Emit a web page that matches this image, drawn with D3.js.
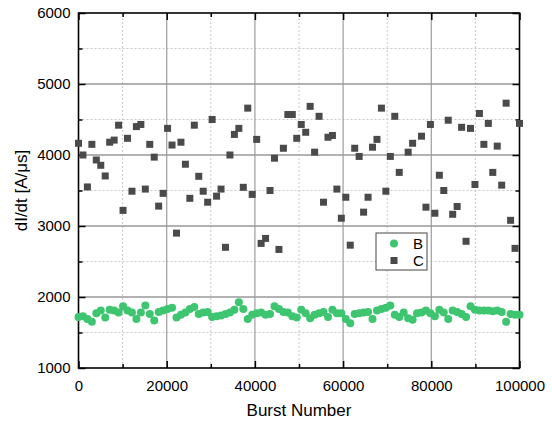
<!DOCTYPE html>
<html>
<head>
<meta charset="utf-8">
<script src="https://cdn.jsdelivr.net/npm/d3@7"></script>
<style>
  body { margin: 0; background: #fff; }
  text { font-family: "Liberation Sans", Arial, sans-serif; fill: #000; }
</style>
</head>
<body>
<svg id="chart"></svg>
<script>
// burst numbers (x) shared by both series
const burst = [
  0, 1010, 2020, 3030, 4040, 5050, 6060, 7070, 8080, 9090,
  10100, 11110, 12120, 13130, 14140, 15150, 16160, 17170, 18180, 19190,
  20200, 21210, 22220, 23230, 24240, 25250, 26260, 27270, 28280, 29290,
  30300, 31310, 32320, 33330, 34340, 35350, 36360, 37370, 38380, 39390,
  40400, 41410, 42420, 43430, 44440, 45450, 46460, 47470, 48480, 49490,
  50510, 51520, 52530, 53540, 54550, 55560, 56570, 57580, 58590, 59600,
  60610, 61620, 62630, 63640, 64650, 65660, 66670, 67680, 68690, 69700,
  70710, 71720, 72730, 73740, 74750, 75760, 76770, 77780, 78790, 79800,
  80810, 81820, 82830, 83840, 84850, 85860, 86870, 87880, 88890, 89900,
  90910, 91920, 92930, 93940, 94950, 95960, 96970, 97980, 98990, 100000
];

const seriesB = [
  1720, 1730, 1690, 1650, 1770, 1810, 1710, 1820, 1810, 1780,
  1870, 1810, 1780, 1690, 1780, 1880, 1760, 1670, 1790, 1810,
  1830, 1850, 1710, 1750, 1780, 1830, 1860, 1760, 1780, 1790,
  1720, 1730, 1740, 1760, 1780, 1820, 1925, 1830, 1690, 1750,
  1770, 1780, 1750, 1760, 1870, 1830, 1790, 1780, 1730, 1710,
  1820, 1770, 1700, 1750, 1770, 1790, 1720, 1820, 1770, 1770,
  1690, 1630, 1760, 1770, 1780, 1790, 1690, 1810, 1830, 1850,
  1880, 1750, 1720, 1780, 1700, 1680, 1770, 1780, 1810, 1770,
  1730, 1820, 1780, 1690, 1810, 1790, 1760, 1720, 1870, 1820,
  1810, 1810, 1810, 1800, 1810, 1790, 1650, 1760, 1750, 1750
];

// two C points sit behind the legend box and can't be read
const seriesC = [
  4165, 4000, 3550, 4150, 3930, 3855, 3705, 4180, 4210, 4420,
  3220, 4235, 3490, 4400, 4430, 3520, 4150, 3970, 3280, 3460,
  4375, 4140, 2900, 4180, 3870, 3390, 4420, 3700, 3490, 3335,
  4500, 3420, 3520, 2700, 4000, 4290, 4375, 3545, 4660, 3445,
  4220, 2755, 2825, 3500, 3955, 2670, 4095, 4570, 4570, 4235,
  4430, 4320, 4685, 4040, 4545, 3335, 4250, 4275, 3520, 3110,
  3405, 2730, 4095, 3980, 3195, 3405, 4110, 4220, 4660, 3490,
  3980, 4545, 3755, null, 4040, 4165, null, 4265, 3265, 4430,
  3180, 3715, 3500, 4490, 3165, 3275, 4390, 2785, 4375, 3585,
  4585, 4150, 4445, 3755, 4125, 3575, 4730, 3080, 2685, 4445
];

const xTicks = [0, 20000, 40000, 60000, 80000, 100000];
const yTicks = [1000, 2000, 3000, 4000, 5000, 6000];
const xMinor = [10000, 30000, 50000, 70000, 90000];
const yMinor = [1500, 2500, 3500, 4500, 5500];

const W = 552, H = 423;
const m = { left: 78.5, right: 32.5, top: 13, bottom: 55 };

const svg = d3.select("#chart").attr("width", W).attr("height", H);

const x = d3.scaleLinear().domain([0, 100000]).range([m.left, W - m.right]);
const y = d3.scaleLinear().domain([1000, 6000]).range([H - m.bottom, m.top]);

const grid = svg.append("g");

// minor grid (dotted)
grid.selectAll(".vminor").data(xMinor).enter().append("line")
  .attr("x1", d => x(d)).attr("x2", d => x(d))
  .attr("y1", y(1000)).attr("y2", y(6000))
  .attr("stroke", "#c8c8c8").attr("stroke-width", 1).attr("stroke-dasharray", "2,2");
grid.selectAll(".hminor").data(yMinor).enter().append("line")
  .attr("x1", x(0)).attr("x2", x(100000))
  .attr("y1", d => y(d)).attr("y2", d => y(d))
  .attr("stroke", "#c8c8c8").attr("stroke-width", 1).attr("stroke-dasharray", "2,2");

// major grid
grid.selectAll(".vmajor").data(xTicks.slice(1, -1)).enter().append("line")
  .attr("x1", d => x(d)).attr("x2", d => x(d))
  .attr("y1", y(1000)).attr("y2", y(6000))
  .attr("stroke", "#a4a4a4").attr("stroke-width", 1.3);
grid.selectAll(".hmajor").data(yTicks.slice(1, -1)).enter().append("line")
  .attr("x1", x(0)).attr("x2", x(100000))
  .attr("y1", d => y(d)).attr("y2", d => y(d))
  .attr("stroke", "#999").attr("stroke-width", 1.3);

// axes, ticks pointing inward
const fmt = d3.format("d");
svg.append("g").attr("transform", `translate(0,${y(1000)})`)
  .call(d3.axisBottom(x).tickValues(xTicks).tickFormat(fmt).tickSizeInner(-7).tickSizeOuter(0).tickPadding(12));
svg.append("g").attr("transform", `translate(0,${y(1000)})`)
  .call(d3.axisBottom(x).tickValues(xMinor).tickFormat("").tickSizeInner(-4).tickSizeOuter(0));
svg.append("g").attr("transform", `translate(${x(0)},0)`)
  .call(d3.axisLeft(y).tickValues(yTicks).tickFormat(fmt).tickSizeInner(-7).tickSizeOuter(0).tickPadding(8));
svg.append("g").attr("transform", `translate(${x(0)},0)`)
  .call(d3.axisLeft(y).tickValues(yMinor).tickFormat("").tickSizeInner(-4).tickSizeOuter(0));
svg.append("g").attr("transform", `translate(${x(100000)},0)`)
  .call(d3.axisRight(y).tickValues(yTicks).tickFormat("").tickSizeInner(-7).tickSizeOuter(0));
svg.append("g").attr("transform", `translate(${x(100000)},0)`)
  .call(d3.axisRight(y).tickValues(yMinor).tickFormat("").tickSizeInner(-4).tickSizeOuter(0));
svg.append("g").attr("transform", `translate(0,${y(6000)})`)
  .call(d3.axisTop(x).tickValues(xTicks).tickFormat("").tickSizeInner(-7).tickSizeOuter(0));
svg.append("g").attr("transform", `translate(0,${y(6000)})`)
  .call(d3.axisTop(x).tickValues(xMinor).tickFormat("").tickSizeInner(-4).tickSizeOuter(0));

svg.selectAll(".tick line").attr("stroke", "#000").attr("stroke-width", 1.5);
svg.selectAll(".domain").remove();
svg.selectAll(".tick text").style("font-size", "15px").attr("fill", "#000")
  .style("font-family", '"Liberation Sans", Arial, sans-serif');

// frame
svg.append("rect")
  .attr("x", x(0)).attr("y", y(6000))
  .attr("width", x(100000) - x(0)).attr("height", y(1000) - y(6000))
  .attr("fill", "none").attr("stroke", "#000").attr("stroke-width", 1.6);

// series B (circles)
svg.append("g").selectAll("circle")
  .data(burst.map((b, i) => ({ b, v: seriesB[i] })))
  .enter().append("circle")
  .attr("cx", d => x(d.b)).attr("cy", d => y(d.v)).attr("r", 4)
  .attr("fill", "#3ec56f");

// series C (squares)
const sq = 7;
svg.append("g").selectAll("rect")
  .data(burst.map((b, i) => ({ b, v: seriesC[i] })).filter(d => d.v != null))
  .enter().append("rect")
  .attr("x", d => x(d.b) - sq / 2).attr("y", d => y(d.v) - sq / 2)
  .attr("width", sq).attr("height", sq)
  .attr("fill", "#4a4a4a");

// legend
const lg = svg.append("g").attr("transform", "translate(376,233)");
lg.append("rect").attr("width", 51).attr("height", 37)
  .attr("fill", "#fff").attr("stroke", "#444").attr("stroke-width", 1);
lg.append("circle").attr("cx", 18).attr("cy", 10.5).attr("r", 4).attr("fill", "#3ec56f");
lg.append("rect").attr("x", 18 - sq / 2).attr("y", 27.5 - sq / 2).attr("width", sq).attr("height", sq).attr("fill", "#4a4a4a");
lg.append("text").attr("x", 37).attr("y", 16).style("font-size", "15px").text("B");
lg.append("text").attr("x", 37).attr("y", 33).style("font-size", "15px").text("C");

// axis titles
svg.append("text")
  .attr("x", (x(0) + x(100000)) / 2).attr("y", 416)
  .attr("text-anchor", "middle").style("font-size", "17px")
  .text("Burst Number");
svg.append("text")
  .attr("transform", `translate(27,${(y(1000) + y(6000)) / 2}) rotate(-90)`)
  .attr("text-anchor", "middle").style("font-size", "17px")
  .text("dI/dt [A/μs]");
</script>
</body>
</html>
